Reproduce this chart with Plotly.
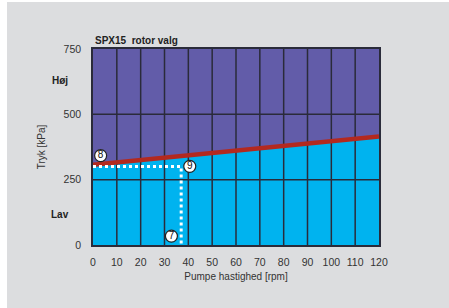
import plotly.graph_objects as go

# ---- data ----
speed_limit = [0, 120]          # rpm
pressure_limit = [307, 415]     # kPa (rotor selection boundary)
dot_speed = [0, 37, 37]         # operating point guide
dot_pressure = [300, 300, 0]
marker_speed = [3.2, 40.6, 32.9]
marker_pressure = [342, 301, 34]
marker_labels = ["8", "9", "7"]
x_ticks = [0, 10, 20, 30, 40, 50, 60, 70, 80, 90, 100, 110, 120]
y_ticks = [0, 250, 500, 750]
zone_labels = ["Høj", "Lav"]
zone_pressure = [630, 115]

PURPLE = "#625CA9"
BLUE = "#00B3EF"
RED = "#B3291F"
GRID = "#2A2B3A"
BG = "#DCDDDF"
FONT = "Liberation Sans, Arial, sans-serif"

fig = go.Figure()

# low zone fill (below boundary)
fig.add_trace(go.Scatter(x=speed_limit, y=pressure_limit, mode="lines",
                         line=dict(width=0, color=BLUE), fill="tozeroy",
                         fillcolor=BLUE, hoverinfo="skip", showlegend=False))

# grid lines drawn above fill
gx, gy = [], []
for t in x_ticks[1:-1]:
    gx += [t, t, None]
    gy += [y_ticks[0], y_ticks[-1], None]
for t in y_ticks[1:-1]:
    gx += [x_ticks[0], x_ticks[-1], None]
    gy += [t, t, None]
fig.add_trace(go.Scatter(x=gx, y=gy, mode="lines", line=dict(color=GRID, width=1.5),
                         hoverinfo="skip", showlegend=False))

# boundary line
fig.add_trace(go.Scatter(x=speed_limit, y=pressure_limit, mode="lines",
                         line=dict(color=RED, width=4.5), hoverinfo="skip", showlegend=False))

# dotted guide
fig.add_trace(go.Scatter(x=dot_speed, y=dot_pressure, mode="lines",
                         line=dict(color="white", width=3, dash="dot"),
                         hoverinfo="skip", showlegend=False))

# numbered markers
fig.add_trace(go.Scatter(x=marker_speed, y=marker_pressure, mode="markers+text",
                         marker=dict(size=12, color="white", line=dict(color="#222", width=1.2)),
                         text=marker_labels, textposition="middle center",
                         textfont=dict(size=10, color="#111", family=FONT),
                         cliponaxis=False, hoverinfo="skip", showlegend=False))

annotations = [
    dict(text="<b>SPX15  rotor valg</b>", xref="paper", yref="paper",
         x=0, y=1, xanchor="left", yanchor="bottom", yshift=1, showarrow=False,
         font=dict(size=10, color="#222", family=FONT)),
]
for lab, p in zip(zone_labels, zone_pressure):
    annotations.append(dict(text="<b>" + lab + "</b>", xref="paper", yref="y",
                            x=(60 - 93) / 286, y=p, xanchor="center", yanchor="middle",
                            showarrow=False, font=dict(size=10, color="#222", family=FONT)))

fig.update_layout(
    width=449, height=308,
    margin=dict(l=93, r=70, t=49, b=63, autoexpand=False),
    paper_bgcolor=BG, plot_bgcolor=PURPLE,
    font=dict(family=FONT, size=10, color="#333"),
    annotations=annotations,
    shapes=[
        dict(type="rect", xref="paper", yref="paper", x0=-93 / 286, x1=(7 - 93) / 286,
             y0=-1, y1=2, fillcolor="white", line=dict(width=0), layer="below"),
        dict(type="rect", xref="paper", yref="paper", x0=-1, x1=2,
             y0=1 + 47 / 196, y1=2, fillcolor="white", line=dict(width=0), layer="below"),
    ],
    xaxis=dict(range=[0, 120], tickvals=x_ticks, showgrid=False, zeroline=False,
               showline=True, linecolor=GRID, linewidth=1.5, mirror=True,
               ticks="", ticklabelstandoff=7, automargin=False,
               tickfont=dict(size=10.5),
               title=dict(text="Pumpe hastighed [rpm]", standoff=6,
                          font=dict(size=10, color="#333"))),
    yaxis=dict(range=[0, 750], tickvals=y_ticks, showgrid=False, zeroline=False,
               showline=True, linecolor=GRID, linewidth=1.5, mirror=True,
               ticks="", ticklabelstandoff=8, automargin=False,
               tickfont=dict(size=10.5),
               title=dict(text="Tryk [kPa]", standoff=16,
                          font=dict(size=10, color="#333"))),
)

fig.write_html("out.html", config={"displayModeBar": False},
               post_script="document.body.style.margin='0';document.body.style.overflow='hidden';")
